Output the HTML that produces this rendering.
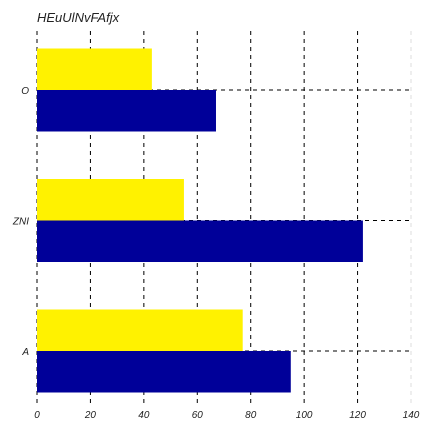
<!DOCTYPE html>
<html><head><meta charset="utf-8"><style>
body{margin:0;background:#fff;}
svg text{font-family:"Liberation Sans",sans-serif;font-style:italic;}
</style></head><body>
<svg id="chart" width="432" height="432" xmlns="http://www.w3.org/2000/svg">
<text x="37" y="22" font-size="13" fill="#222">HEuUlNvFAfjx</text>
<g id="grid"></g><g id="bars"></g><g id="labels"></g>
</svg>
<script>
const categories = ["A", "ZNI", "O"];
const yellowValues = [77, 55, 43];
const blueValues = [95, 122, 67];
const xTicks = [0, 20, 40, 60, 80, 100, 120, 140];
const NS = "http://www.w3.org/2000/svg";
const x0 = 37, x1 = 411, xMax = 140;
const xs = v => x0 + (x1 - x0) * v / xMax;
const ys = i => 351 - i * 130.5;
const grid = document.getElementById('grid'), bars = document.getElementById('bars'), labels = document.getElementById('labels');
function mk(tag, attrs, parent){const e=document.createElementNS(NS,tag);for(const k in attrs)e.setAttribute(k,attrs[k]);parent.appendChild(e);return e;}
xTicks.forEach((t,i)=>{
  const l = mk('line',{x1:xs(t),x2:xs(t),y1:31,y2:404,stroke:i===xTicks.length-1?'#ddd':'#000','stroke-width':1,'stroke-dasharray':'4,4'},grid);
  
  
  const tx = mk('text',{x:xs(t),y:418,'font-size':10,fill:'#222','text-anchor':'middle'},labels);
  tx.textContent = t;
  
  
});
categories.forEach((c,i)=>{
  const y = ys(i);
  const g = mk('line',{x1:x0,x2:x1,y1:y,y2:y,stroke:'#000','stroke-width':1,'stroke-dasharray':'4,4'},grid);
  
  
  const yb = mk('rect',{x:x0,y:y-41.5,width:xs(yellowValues[i])-x0,height:41.5,fill:'#fff200'},bars);
  
  
  const bb = mk('rect',{x:x0,y:y,width:xs(blueValues[i])-x0,height:41.5,fill:'#000099'},bars);
  
  
  const tx = mk('text',{x:29,y:y+4,'font-size':10,fill:'#222','text-anchor':'end'},labels);
  tx.textContent = c;
  
  
});
</script>
</body></html>
